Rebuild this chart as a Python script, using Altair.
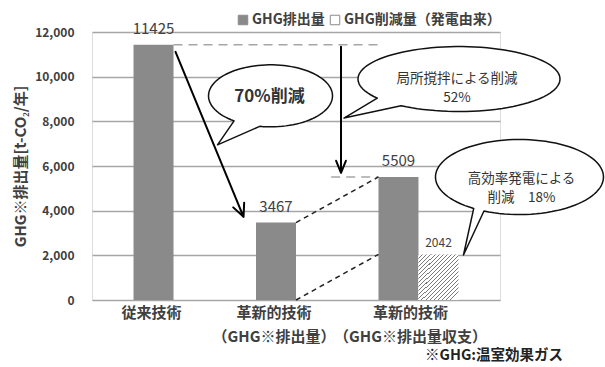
import math
import altair as alt
import pandas as pd

# ---------------- data ----------------
categories = ["従来技術", "革新的技術\n（GHG※排出量）", "革新的技術\n（GHG※排出量収支）"]
series_names = ["GHG排出量", "GHG削減量（発電由来）"]
emission = [11425, 3467, 5509]
reduction = [2042]
y_ticks = [0, 2000, 4000, 6000, 8000, 10000, 12000]
callout_texts = ["70%削減", "局所撹拌による削減\n52%", "高効率発電による\n削減　18%"]
y_title = "GHG※排出量[t-CO₂/年]"
footnote = "※GHG:温室効果ガス"

FONT = "Noto Sans CJK JP"
GRAY = "#8a8a8a"
TXT = "#404040"

bars = pd.DataFrame({
    "category": categories + [categories[2]],
    "series": [series_names[0]] * 3 + [series_names[1]],
    "value": emission + reduction,
})

x_scale = alt.Scale(domain=categories, paddingInner=0.347, paddingOuter=0.339)
y_scale = alt.Scale(domain=[0, 12000], nice=False)
xo_scale = alt.Scale(domain=series_names, paddingInner=0, paddingOuter=0)

x_axis = alt.Axis(
    title=None, domain=False, ticks=False, tickSize=0, labelAngle=0,
    labelFont=FONT, labelFontSize=15, labelFontWeight="bold", labelColor=TXT,
    labelLineHeight=24, labelPadding=5, labelBaseline="top", labelOverlap=False,
    labelLimit=300, labelExpr="split(datum.label, '\\n')",
    labelOffset={"condition": {"test": "test(/収支/, datum.value)", "value": -8}, "value": -22},
)
y_axis = alt.Axis(
    title=y_title, values=y_ticks, format=",d", domain=False, ticks=False, tickSize=0,
    grid=True, gridColor="#a6a6a6", gridWidth=1.5,
    labelFont=FONT, labelFontSize=12, labelFontWeight="bold", labelColor=TXT, labelPadding=18,
    titleFont=FONT, titleFontSize=15, titleFontWeight="bold", titleColor=TXT, titlePadding=6,
)

X = alt.X("category:N", scale=x_scale, axis=x_axis)
XO = alt.XOffset("series:N", scale=xo_scale)
Y = alt.Y("value:Q", scale=y_scale, axis=y_axis)

bar_layer = alt.Chart(bars).mark_bar().encode(
    x=X, xOffset=XO, y=Y,
    color=alt.Color(
        "series:N",
        scale=alt.Scale(domain=series_names, range=[GRAY, "white"]),
        legend=alt.Legend(
            title=None, orient="none", legendX=144, legendY=-19, direction="horizontal",
            symbolType="square", symbolSize=90, symbolStrokeColor=GRAY, symbolStrokeWidth=1,
            labelFont=FONT, labelFontSize=14, labelFontWeight="bold", labelColor=TXT,
            columnPadding=3, labelOffset=2, padding=0, labelLimit=300,
        ),
    ),
)

# hatch pattern as a striped gradient
N = 20
stops = []
for i in range(N):
    stops += [
        {"offset": i / N, "color": "#7a7a7a"},
        {"offset": (i + 0.25) / N, "color": "#7a7a7a"},
        {"offset": (i + 0.25) / N, "color": "#ffffff"},
        {"offset": (i + 1) / N, "color": "#ffffff"},
    ]
hatch = {"gradient": "linear", "x1": 0, "y1": 0, "x2": 0.87, "y2": 1, "stops": stops}

hatch_layer = alt.Chart(bars).transform_filter(
    alt.datum.series == series_names[1]
).mark_bar(fill=hatch).encode(x=X, xOffset=XO, y="value:Q")

lab_main = alt.Chart(bars).transform_filter(alt.datum.series == series_names[0]).mark_text(
    dy=-11, font=FONT, fontSize=15, color=TXT, baseline="alphabetic"
).encode(x=X, xOffset=XO, y="value:Q", text=alt.Text("value:Q", format="d"))
lab_red = alt.Chart(bars).transform_filter(alt.datum.series == series_names[1]).mark_text(
    dy=-7, font=FONT, fontSize=12, color=TXT, baseline="alphabetic"
).encode(x=X, xOffset=XO, y="value:Q", text=alt.Text("value:Q", format="d"))

# reference lines derived from values
lvl1 = pd.DataFrame({"category": [categories[0]], "to": [categories[2]], "value": [emission[0]]})
lvl2 = pd.DataFrame({"category": [categories[1]], "to": [categories[2]], "value": [emission[2]]})
conn = pd.DataFrame({"category": [categories[1]] * 2, "to": [categories[2]] * 2,
                     "value": [emission[1], 0], "value2": [emission[2], reduction[0]]})

rule_lvl1 = alt.Chart(lvl1).mark_rule(color="#a6a6a6", strokeWidth=1.5, strokeDash=[9, 6]).encode(
    x=alt.X("category:N", bandPosition=0.5), x2=alt.X2("to", bandPosition=0), y="value:Q")
rule_lvl2 = alt.Chart(lvl2).mark_rule(color="#a6a6a6", strokeWidth=1.5, strokeDash=[9, 6]).encode(
    x=alt.X("category:N", bandPosition=0.94), x2=alt.X2("to", bandPosition=0), y="value:Q")
rule_conn = alt.Chart(conn).mark_rule(color="#222222", strokeWidth=1.5, strokeDash=[5, 4]).encode(
    x=alt.X("category:N", bandPosition=0.5), x2=alt.X2("to", bandPosition=0),
    y="value:Q", y2="value2:Q")


# ---------------- callouts & arrows (shapes, in px/100 relative to anchor) ----------------
def bubble(cx, cy, rx, ry, t_a, t_b, tip, n=96):
    pts = []
    start, end = t_b, t_a + 360
    for i in range(n + 1):
        t = math.radians(start + (end - start) * i / n)
        pts.append((cx + rx * math.cos(t), cy + ry * math.sin(t)))
    pts.append(tip)
    return "M" + " L".join(f"{x/100:.4f},{y/100:.4f}" for x, y in pts) + " Z"


def arrow(p0, p1, head=14, ang=25):
    dx, dy = p1[0] - p0[0], p1[1] - p0[1]
    L = math.hypot(dx, dy)
    bx, by = -dx / L, -dy / L
    a = math.radians(ang)
    w1 = (bx * math.cos(a) - by * math.sin(a), bx * math.sin(a) + by * math.cos(a))
    w2 = (bx * math.cos(a) + by * math.sin(a), -bx * math.sin(a) + by * math.cos(a))
    e1 = (p1[0] + head * w1[0], p1[1] + head * w1[1])
    e2 = (p1[0] + head * w2[0], p1[1] + head * w2[1])
    f = lambda p: f"{p[0]/100:.4f},{p[1]/100:.4f}"
    return f"M{f(p0)} L{f(p1)} M{f(e1)} L{f(p1)} L{f(e2)}"


anchors = [
    (categories[0], 0.5, emission[0]),
    (categories[1], 0.5, emission[0]),
    (categories[2], 1.0, reduction[0]),
]
bubble_shapes = [
    bubble(97, 51, 62, 31, 100, 126, (44, 100)),
    bubble(163, 34.2, 101, 32.5, 125, 144, (48, 73.2)),
    bubble(61, -77.4, 84, 37.5, 115, 123, (5, 0.6)),
]
text_offsets = [(96, 52, 17, "bold"), (161, 34.5, 13.5, "normal"), (63, -75, 13.5, "normal")]

bubble_layers = []
text_layers = []
for (cat, bp, val), shp, (tdx, tdy, fs, fw), txt in zip(anchors, bubble_shapes, text_offsets, callout_texts):
    d = pd.DataFrame({"category": [cat], "value": [val], "label": [txt]})
    bubble_layers.append(alt.Chart(d).mark_point(
        shape=shp, size=40000, filled=True, fill="white", stroke="#111111",
        strokeWidth=1.5, opacity=1, strokeJoin="round"
    ).encode(x=alt.X("category:N", bandPosition=bp), y="value:Q"))
    text_layers.append(alt.Chart(d).mark_text(
        dx=tdx, dy=tdy, font=FONT, fontSize=fs, fontWeight=fw, color="#333333",
        align="center", baseline="middle", lineBreak="\n", lineHeight=19
    ).encode(x=alt.X("category:N", bandPosition=bp), y="value:Q", text="label:N"))

arrow_defs = [
    (anchors[0], arrow((2, 7), (70, 172))),
    (anchors[1], arrow((45, 2), (45, 128), head=13, ang=22)),
]
arrow_layers = []
for (cat, bp, val), shp in arrow_defs:
    d = pd.DataFrame({"category": [cat], "value": [val]})
    arrow_layers.append(alt.Chart(d).mark_point(
        shape=shp, size=40000, filled=False, stroke="#000000", strokeWidth=2,
        opacity=1, strokeCap="round", strokeJoin="round"
    ).encode(x=alt.X("category:N", bandPosition=bp), y="value:Q"))

chart = alt.layer(
    bar_layer, hatch_layer, rule_lvl1, rule_lvl2, rule_conn,
    *bubble_layers, *text_layers, *arrow_layers, lab_main, lab_red,
).properties(
    width=408, height=268,
    padding={"left": 92, "top": 32, "right": 105, "bottom": 67},
    autosize=alt.AutoSizeParams(type="none"),
    title=alt.TitleParams(footnote, orient="bottom", anchor="end", frame="group", dx=63, offset=5,
                          font=FONT, fontSize=14.5, fontWeight="bold", color="#222222"),
).configure_view(stroke=None).configure(background="white")

chart.save("out.html", embed_options={"renderer": "svg", "actions": False})
